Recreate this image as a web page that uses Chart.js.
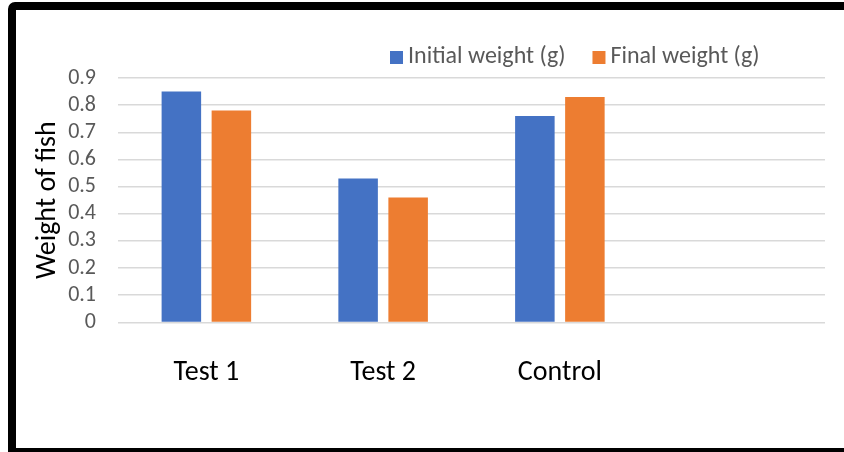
<!DOCTYPE html>
<html><head><meta charset="utf-8">
<script src="https://cdn.jsdelivr.net/npm/chart.js@4/dist/chart.umd.min.js"></script>
<style>
html,body{margin:0;padding:0;background:#fff;overflow:hidden}
#wrap{position:relative;width:844px;height:452px;overflow:hidden}
#frame{position:absolute;left:8px;top:2px;width:1000px;height:454px;border:8px solid #000;border-radius:7px 0 0 0;box-sizing:border-box}
#c{position:absolute;left:0;top:0}
</style></head>
<body>
<div id="wrap"><div id="frame"></div><canvas id="c" width="844" height="452"></canvas></div>
<script>
const categories = ['Test 1', 'Test 2', 'Control', ''];
const seriesNames = ['Initial weight (g)', 'Final weight (g)'];
const initialWeight = [0.85, 0.53, 0.76, null];
const finalWeight = [0.78, 0.46, 0.83, null];
const yMin = 0, yMax = 0.9, yStep = 0.1;
const yTitle = 'Weight of fish';
const colors = ['#4472C4', '#ED7D31'];
const FONT = 'Carlito, Lato, sans-serif';

const legendPlugin = {
  id: 'customLegend',
  afterDraw(chart) {
    const ctx = chart.ctx;
    ctx.save();
    ctx.font = '24px ' + FONT;
    ctx.textBaseline = 'middle';
    ctx.textAlign = 'left';
    let x = 390;
    const y = 57;
    chart.data.datasets.forEach((ds) => {
      ctx.fillStyle = ds.backgroundColor;
      ctx.fillRect(x, y - 6, 13, 13);
      ctx.fillStyle = '#595959';
      ctx.fillText(ds.label, x + 18, y);
      x += 18 + ctx.measureText(ds.label).width + 27;
    });
    ctx.restore();
  }
};

new Chart(document.getElementById('c'), {
  type: 'bar',
  data: {
    labels: categories,
    datasets: [
      { label: seriesNames[0], data: initialWeight, backgroundColor: colors[0], categoryPercentage: 0.566, barPercentage: 0.79 },
      { label: seriesNames[1], data: finalWeight, backgroundColor: colors[1], categoryPercentage: 0.566, barPercentage: 0.79 }
    ]
  },
  options: {
    responsive: false,
    animation: false,
    layout: { padding: { left: 27, right: 19, top: 78, bottom: 36 } },
    plugins: { legend: { display: false }, tooltip: { enabled: false } },
    scales: {
      x: {
        grid: { display: false },
        border: { display: false },
        ticks: { color: '#000', font: { family: FONT, size: 28 }, padding: 26, maxRotation: 0, autoSkip: false }
      },
      y: {
        min: yMin, max: yMax,
        grid: { color: '#D9D9D9', lineWidth: 1.5, drawTicks: false },
        border: { display: false },
        ticks: {
          stepSize: yStep, padding: 22, color: '#595959', autoSkip: false,
          font: { family: FONT, size: 22 },
          callback: (v) => v === 0 ? '0' : v.toFixed(1)
        },
        title: { display: true, text: yTitle, color: '#000', font: { family: FONT, size: 28 }, padding: 4 },
        afterFit: (s) => { s.width = 91; }
      }
    }
  },
  plugins: [legendPlugin]
});
</script>
</body></html>
